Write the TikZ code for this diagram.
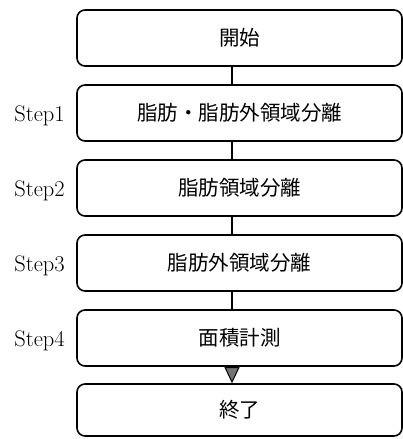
\documentclass[tikz,border=0pt]{standalone}
\usepackage{fontspec}
\newfontfamily\cjk{Noto Sans CJK JP}
\usetikzlibrary{arrows.meta}
\tikzset{
  box/.style={draw=black, line width=1.6pt, rounded corners=8pt, minimum width=325pt, minimum height=56pt, inner sep=0pt, font=\cjk\fontsize{20.5}{20.5}\selectfont},
  steplabel/.style={font=\fontsize{22.5}{22.5}\selectfont, inner sep=0pt},
  conn/.style={draw=black, line width=1.6pt},
}
\begin{document}
\begin{tikzpicture}[x=1pt,y=-1pt]
\useasboundingbox (0,0) rectangle (403,439);
\node[box] (b0) at (239.5,38) {開始};
\node[box] (b1) at (239.5,113) {脂肪・脂肪外領域分離};
\node[box] (b2) at (239.5,188) {脂肪領域分離};
\node[box] (b3) at (239.5,263) {脂肪外領域分離};
\node[box] (b4) at (239.5,338) {面積計測};
\node[box, minimum height=52pt] (b5) at (239.5,410) {終了};
\node[steplabel] (s1) at (39.5,116) {Step1};
\node[steplabel] (s2) at (39.5,191) {Step2};
\node[steplabel] (s3) at (39.5,266) {Step3};
\node[steplabel] (s4) at (39.5,341) {Step4};
\coordinate (c0) at ([xshift=-7.5pt]b0.south);
\coordinate (c1) at ([xshift=-7.5pt]b1.south);
\coordinate (c2) at ([xshift=-7.5pt]b2.south);
\coordinate (c3) at ([xshift=-7.5pt]b3.south);
\coordinate (c4) at ([xshift=-7.5pt]b4.south);
\draw[conn] (c0) -- (c0 |- b1.north);
\draw[conn] (c1) -- (c1 |- b2.north);
\draw[conn] (c2) -- (c2 |- b3.north);
\draw[conn] (c3) -- (c3 |- b4.north);
\draw[conn, -{Triangle[width=15pt,length=16pt,fill=black!55,line width=1pt]}] (c4) -- (c4 |- b5.north);
\end{tikzpicture}
\end{document}
